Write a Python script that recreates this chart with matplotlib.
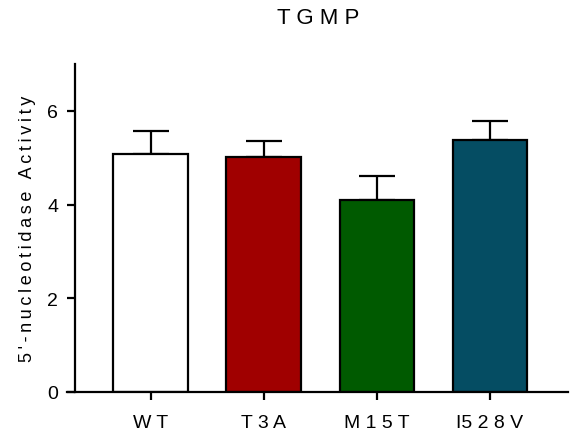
import matplotlib
matplotlib.use("Agg")
import matplotlib.pyplot as plt

# data
groups = ["W T", "T 3 A", "M 1 5 T", "I5 2 8 V"]
means = [5.08, 5.02, 4.09, 5.37]
errors = [0.50, 0.33, 0.51, 0.41]
colors = ["#ffffff", "#a00000", "#005a00", "#054d63"]

plt.rcParams["font.family"] = ["Liberation Sans", "DejaVu Sans"]


def tracked(s):
    # GraphPad-style letter spacing via thin spaces
    return "\u2009".join(s)


fig = plt.figure(figsize=(5.73, 4.35), dpi=100)
ax = fig.add_axes([67 / 573, 1 - 393 / 435, (568 - 67) / 573, (393 - 65) / 435])

x = list(range(len(groups)))
ax.bar(x, means, width=0.66, color=colors, edgecolor="black", linewidth=1.6, zorder=2)
ax.errorbar(x, means, yerr=[[0] * len(errors), errors], fmt="none", ecolor="black",
            elinewidth=1.6, capsize=13, capthick=1.6, zorder=1)

ax.set_xlim(-0.74, 3.69)
ax.set_ylim(0, 7)
ax.spines["left"].set_position(("data", -0.67))
ax.spines["left"].set_bounds(0, 7)
for s in ["top", "right"]:
    ax.spines[s].set_visible(False)
for s in ["left", "bottom"]:
    ax.spines[s].set_linewidth(1.6)

ax.set_yticks([0, 2, 4, 6])
ax.set_xticks(x)
ax.set_xticklabels(groups)
ax.tick_params(axis="both", width=1.6, length=6, labelsize=14, direction="out")
ax.tick_params(axis="x", pad=10)
ax.tick_params(axis="y", pad=6)

ax.set_ylabel(tracked("5'-nucleotidase Activity"), fontsize=13, labelpad=8)
fig.text(318 / 573, 1 - 18 / 435, "T G M P", ha="center", va="center", fontsize=16)

fig.savefig("out.png", dpi=100)
